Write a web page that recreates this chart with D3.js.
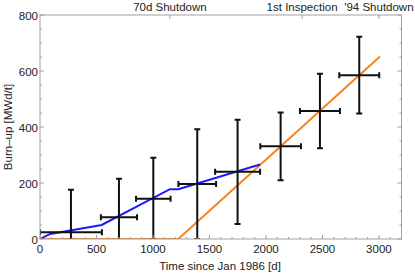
<!DOCTYPE html>
<html><head><meta charset="utf-8">
<script src="https://cdn.jsdelivr.net/npm/d3@7"></script>
<style>body{margin:0;background:#fff}svg{display:block}text{font-family:"Liberation Sans",Arial,sans-serif}</style>
</head><body>
<script>
// Data
const pointT    = [274, 699, 1003, 1392, 1749, 2130, 2478, 2826];
const pointVal  = [24, 78, 144, 196, 240, 331, 457, 585];
const pointTErr = [274, 160, 153, 167, 199, 180, 177, 177];
const pointVErr = [152, 137, 146, 196, 186, 121, 133, 137];
const blueT   = [0, 90, 546, 1150, 1224, 1947];
const blueVal = [0, 18, 50, 178, 178, 266];
const orangeT   = [0, 1224, 3009];
const orangeVal = [0, 0, 652];
const eventT     = [1150, 2320, 3000];
const eventLabel = ["70d Shutdown", "1st Inspection", "'94 Shutdown"];
const xTicks = [0, 500, 1000, 1500, 2000, 2500, 3000];
const yTicks = [0, 200, 400, 600, 800];

const W = 415, H = 273;
const L = 40, R = 401.5, T = 15, B = 239;
const FS = 11.5;
const svg = d3.select("body").append("svg").attr("width", W).attr("height", H);
const x = d3.scaleLinear().domain([0, 3200]).range([L, R]);
const y = d3.scaleLinear().domain([0, 800]).range([B, T]);
const frameCol = "#a0a0a0", textCol = "#222";

svg.append("clipPath").attr("id", "c").append("rect")
  .attr("x", L).attr("y", T).attr("width", R - L).attr("height", B - T);
const g = svg.append("g").attr("clip-path", "url(#c)");

// lines
const line = d3.line().x(d => x(d[0])).y(d => y(d[1]));
g.append("path").datum(orangeT.map((t, i) => [t, orangeVal[i]]))
  .attr("d", line).attr("fill", "none").attr("stroke", "#f5841f").attr("stroke-width", 2);
g.append("path").datum(blueT.map((t, i) => [t, blueVal[i]]))
  .attr("d", line).attr("fill", "none").attr("stroke", "#1a1aff").attr("stroke-width", 2);

// error bars
const eb = g.append("g").attr("stroke", "#111").attr("stroke-width", 2);
pointT.forEach((t, i) => {
  const v = pointVal[i], dt = pointTErr[i], dv = pointVErr[i];
  eb.append("line").attr("x1", x(t - dt)).attr("x2", x(t + dt)).attr("y1", y(v)).attr("y2", y(v));
  eb.append("line").attr("x1", x(t)).attr("x2", x(t)).attr("y1", y(v - dv)).attr("y2", y(v + dv));
  [t - dt, t + dt].forEach(tt => eb.append("line").attr("x1", x(tt)).attr("x2", x(tt)).attr("y1", y(v) - 3).attr("y2", y(v) + 3));
  [v - dv, v + dv].forEach(vv => eb.append("line").attr("x1", x(t) - 3).attr("x2", x(t) + 3).attr("y1", y(vv)).attr("y2", y(vv)));
});

// frame
svg.append("rect").attr("x", L).attr("y", T).attr("width", R - L).attr("height", B - T)
  .attr("fill", "none").attr("stroke", frameCol).attr("stroke-width", 1);

const tk = svg.append("g").attr("stroke", frameCol).attr("stroke-width", 1);
d3.range(0, 3201, 100).forEach(t => {
  const len = t % 500 === 0 ? 4 : 2;
  tk.append("line").attr("x1", x(t)).attr("x2", x(t)).attr("y1", B).attr("y2", B - len);
});
d3.range(0, 801, 50).forEach(v => {
  const len = v % 200 === 0 ? 4 : 2;
  tk.append("line").attr("x1", L).attr("x2", L + len).attr("y1", y(v)).attr("y2", y(v));
  tk.append("line").attr("x1", R).attr("x2", R - len).attr("y1", y(v)).attr("y2", y(v));
});
eventT.forEach(t => tk.append("line").attr("x1", x(t)).attr("x2", x(t)).attr("y1", T).attr("y2", T + 4));

// tick labels
svg.append("g").selectAll("text").data(xTicks).join("text")
  .attr("x", d => x(d)).attr("y", 253).attr("text-anchor", "middle")
  .attr("font-size", FS).attr("fill", textCol).text(d => d);
svg.append("g").selectAll("text").data(yTicks).join("text")
  .attr("x", L - 2).attr("y", d => y(d) + 4.5).attr("text-anchor", "end")
  .attr("font-size", FS).attr("fill", textCol).text(d => d);
svg.append("g").selectAll("text").data(eventT).join("text")
  .attr("x", d => x(d)).attr("y", 11).attr("text-anchor", "middle")
  .attr("font-size", FS).attr("fill", textCol).text((d, i) => eventLabel[i]);

// axis titles
svg.append("text").attr("x", 220).attr("y", 270).attr("text-anchor", "middle")
  .attr("font-size", FS).attr("fill", textCol).text("Time since Jan 1986 [d]");
svg.append("text").attr("transform", `translate(12,${(T + B) / 2}) rotate(-90)`)
  .attr("text-anchor", "middle").attr("font-size", FS).attr("fill", textCol).text("Burn\u2013up [MWd/t]");
</script>
</body></html>
